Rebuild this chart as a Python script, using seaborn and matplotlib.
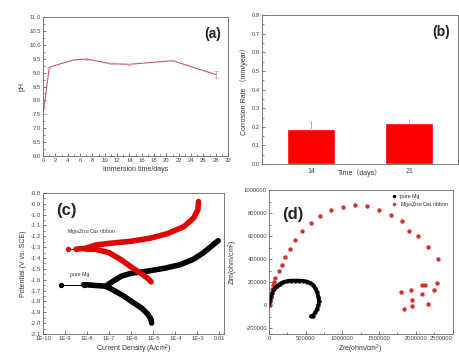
import numpy as np
import pandas as pd
import matplotlib
matplotlib.use("Agg")
import matplotlib.pyplot as plt
import seaborn as sns

# ---- (a) pH of the immersion solution ----
ph_days = [0, 1, 5, 7, 11, 14, 21, 28]
ph_values = [7.5, 9.2, 9.46, 9.49, 9.32, 9.30, 9.43, 8.93]
ph_err = [0.0, 0.02, 0.02, 0.02, 0.02, 0.02, 0.02, 0.12]

# ---- (b) corrosion rate ----
cr_days = ["14", "21"]
cr_rate = [0.186, 0.222]
cr_err = [0.046, 0.022]

# ---- (c) potentiodynamic polarisation (log10 current density, potential) ----
mg_start_logi = [-9.2, -8.16]
mg_start_e = [-1.645, -1.645]
mg_cath_logi = [-8.16, -7.17, -6.87, -6.43, -5.99, -5.54, -5.24, -5.1, -5.08]
mg_cath_e = [-1.645, -1.66, -1.69, -1.74, -1.80, -1.86, -1.92, -1.97, -2.0]
mg_anod_logi = [-7.17, -6.8, -6.43, -5.99, -5.24, -4.5, -3.76, -3.17, -2.72, -2.36, -2.06]
mg_anod_e = [-1.66, -1.61, -1.565, -1.54, -1.52, -1.495, -1.46, -1.41, -1.35, -1.29, -1.24]

rb_start_logi = [-8.87, -8.5]
rb_start_e = [-1.318, -1.318]
rb_anod_logi = [-8.5, -8.06, -7.61, -7.02, -5.99, -5.1, -4.36, -3.61, -3.17, -2.98, -2.95]
rb_anod_e = [-1.318, -1.31, -1.28, -1.265, -1.245, -1.215, -1.175, -1.11, -1.03, -0.955, -0.88]
rb_cath_logi = [-8.06, -7.61, -7.02, -6.43, -5.99, -5.54, -5.24, -5.1]
rb_cath_e = [-1.318, -1.32, -1.35, -1.42, -1.485, -1.545, -1.59, -1.62]

# ---- (d) Nyquist plots ----
mg_zre = [0, 13e3, 27e3, 45e3, 72e3, 108e3, 144e3, 188e3, 242e3, 301e3, 359e3,
          413e3, 467e3, 521e3, 565e3, 601e3, 633e3, 655e3, 673e3, 682e3, 673e3,
          655e3, 633e3, 601e3, 570e3]
mg_zim = [0, 37e3, 71e3, 108e3, 140e3, 165e3, 185e3, 199e3, 208e3, 214e3, 214e3,
          214e3, 211e3, 205e3, 194e3, 174e3, 145e3, 111e3, 74e3, 37e3, 3e3,
          -31e3, -60e3, -91e3, -97e3]

rb_zre = [9e3, 18e3, 27e3, 36e3, 45e3, 54e3, 63e3, 76e3, 135e3, 180e3, 224e3,
          287e3, 359e3, 449e3, 570e3, 696e3, 848e3, 1010e3, 1176e3, 1337e3,
          1494e3, 1661e3, 1813e3, 1907e3, 2029e3, 2168e3, 2302e3,
          1791e3, 1836e3, 1934e3, 1943e3, 1952e3, 2082e3, 2118e3, 2087e3,
          2172e3, 2253e3, 2289e3]
rb_zim = [3e3, 37e3, 71e3, 105e3, 140e3, 174e3, 205e3, 236e3, 293e3, 350e3, 416e3,
          490e3, 564e3, 644e3, 718e3, 778e3, 829e3, 849e3, 869e3, 858e3,
          823e3, 786e3, 729e3, 647e3, 601e3, 507e3, 399e3,
          117e3, -34e3, 134e3, 46e3, -6e3, 179e3, 179e3, 100e3,
          14e3, 128e3, 194e3]

ribbon_label = "Mg$_{66}$Zn$_{30}$Ca$_{4}$ ribbon"

sns.set_style("ticks")
plt.rcParams["font.family"] = ["Liberation Sans", "Noto Sans CJK SC", "DejaVu Sans"]
plt.rcParams["mathtext.fontset"] = "custom"
plt.rcParams["mathtext.rm"] = "Liberation Sans"
plt.rcParams["xtick.direction"] = "in"
plt.rcParams["ytick.direction"] = "in"

TICK = 4.2
LAB = 5.0

fig = plt.figure(figsize=(4.59, 3.56), dpi=100)


def style(ax):
    for s in ax.spines.values():
        s.set_linewidth(0.6)
        s.set_color("#666666")
    ax.tick_params(labelsize=TICK, colors="#444444", length=2, width=0.5, pad=1.5)
    ax.tick_params(which="minor", length=1.2, width=0.4)


# (a)
axa = fig.add_axes([0.094, 0.562, 0.403, 0.390])
df_a = pd.DataFrame({"day": ph_days, "pH": ph_values})
sns.lineplot(data=df_a, x="day", y="pH", ax=axa, color="#cc5a66", linewidth=0.8,
             marker="|", markersize=3, markeredgewidth=0.6, sort=False)
axa.errorbar(ph_days, ph_values, yerr=ph_err, fmt="none", ecolor="#d79aa0",
             elinewidth=0.6, capsize=1.2, capthick=0.5)
axa.set_xlim(0, 30)
axa.set_ylim(6.0, 11.0)
axa.set_xticks(np.arange(0, 31, 2))
axa.set_yticks(np.arange(6.0, 11.01, 0.5))
axa.set_yticklabels([f"{v:.1f}" for v in np.arange(6.0, 11.01, 0.5)])
axa.yaxis.set_minor_locator(matplotlib.ticker.MultipleLocator(0.25))
axa.xaxis.set_minor_locator(matplotlib.ticker.MultipleLocator(1))
axa.set_xlabel("Immersion time/days", fontsize=LAB, color="#333333", labelpad=2)
axa.set_ylabel("pH", fontsize=LAB, color="#333333", labelpad=3)
axa.text(0.96, 0.93, "(a)", transform=axa.transAxes, ha="right", va="top",
         fontsize=10, fontweight="bold")
style(axa)

# (b)
axb = fig.add_axes([0.571, 0.539, 0.427, 0.419])
df_b = pd.DataFrame({"days": cr_days, "rate": cr_rate})
axb.errorbar([0, 1], cr_rate, yerr=[[0, 0], cr_err], fmt="none", ecolor="#999999",
             elinewidth=0.6, capsize=0, zorder=1)
sns.barplot(data=df_b, x="days", y="rate", ax=axb, color="#ff0000", saturation=1,
            width=0.49, errorbar=None, zorder=2)
axb.set_xlim(-0.5, 1.5)
axb.set_ylim(0, 0.8)
axb.set_yticks(np.arange(0, 0.81, 0.1))
axb.set_yticklabels([f"{v:.1f}" for v in np.arange(0, 0.81, 0.1)])
axb.yaxis.set_minor_locator(matplotlib.ticker.MultipleLocator(0.05))
axb.set_xlabel("")
axb.set_ylabel("Corrosion Rate （mm/year）", fontsize=LAB, color="#333333", labelpad=3)
axb.text(0.5, -0.035, "Time（days）", transform=axb.transAxes, ha="center", va="top",
         fontsize=LAB, color="#333333")
axb.text(0.96, 0.93, "(b)", transform=axb.transAxes, ha="right", va="top",
         fontsize=10, fontweight="bold")
style(axb)
axb.tick_params(axis="x", labelsize=LAB, length=0, pad=3)

# (c)
axc = fig.add_axes([0.094, 0.062, 0.394, 0.396])
axc.set_xscale("log")


def curve(ax, logi, e, color, lw):
    d = pd.DataFrame({"i": np.power(10.0, logi), "E": e})
    sns.lineplot(data=d, x="i", y="E", ax=ax, color=color, linewidth=lw,
                 sort=False, estimator=None, solid_capstyle="round")


curve(axc, mg_start_logi, mg_start_e, "black", 0.7)
curve(axc, mg_cath_logi, mg_cath_e, "black", 4.0)
curve(axc, mg_anod_logi, mg_anod_e, "black", 4.0)
curve(axc, rb_start_logi, rb_start_e, "#e00000", 0.7)
curve(axc, rb_cath_logi, rb_cath_e, "#e00000", 4.0)
curve(axc, rb_anod_logi, rb_anod_e, "#e00000", 4.0)
axc.scatter(np.power(10.0, mg_start_logi), mg_start_e, s=8, color="black", zorder=5)
axc.scatter(np.power(10.0, rb_start_logi), rb_start_e, s=8, color="#e00000", zorder=5)
axc.set_xlim(1e-10, 1.6e-2)
axc.set_ylim(-2.1, -0.8)
decades = [1e-10, 1e-9, 1e-8, 1e-7, 1e-6, 1e-5, 1e-4, 1e-3, 1e-2]
axc.set_xticks(decades)
axc.set_xticklabels(["1E-10", "1E-9", "1E-8", "1E-7", "1E-6", "1E-5", "1E-4", "1E-3", "0.01"])
axc.xaxis.set_minor_locator(matplotlib.ticker.NullLocator())
axc.set_yticks(np.arange(-2.1, -0.79, 0.1))
axc.set_yticklabels([f"{v:.1f}" for v in np.arange(-2.1, -0.79, 0.1)])
axc.yaxis.set_minor_locator(matplotlib.ticker.MultipleLocator(0.05))
axc.set_xlabel("Current Density (A/cm$^2$)", fontsize=LAB, color="#333333", labelpad=1)
axc.set_ylabel("Potential (V vs. SCE)", fontsize=LAB, color="#333333", labelpad=3)
axc.text(1.2e-9, -1.2, ribbon_label, fontsize=3.8, color="#333333", va="bottom")
axc.text(1.6e-9, -1.575, "pure Mg", fontsize=3.8, color="#333333", va="bottom")
axc.text(0.07, 0.93, "(c)", transform=axc.transAxes, ha="left", va="top",
         fontsize=12, fontweight="bold")
style(axc)

# (d)
axd = fig.add_axes([0.586, 0.062, 0.400, 0.404])
df_mg = pd.DataFrame({"Zre": mg_zre, "Zim": mg_zim})
df_rb = pd.DataFrame({"Zre": rb_zre, "Zim": rb_zim})
sns.lineplot(data=df_mg, x="Zre", y="Zim", ax=axd, color="black", linewidth=2.6,
             sort=False, estimator=None)
sns.scatterplot(data=df_mg, x="Zre", y="Zim", ax=axd, color="black", s=10,
                linewidth=0, label="pure Mg")
sns.scatterplot(data=df_rb, x="Zre", y="Zim", ax=axd, color="#d03030", s=10,
                linewidth=0, label=ribbon_label)
axd.set_xlim(0, 2500000)
axd.set_ylim(-250000, 1000000)
axd.set_xticks(np.arange(0, 2500001, 500000))
axd.set_xticklabels([str(v) for v in range(0, 2500001, 500000)])
axd.set_yticks(np.arange(-200000, 1000001, 200000))
axd.set_yticklabels([str(v) for v in range(-200000, 1000001, 200000)])
axd.xaxis.set_minor_locator(matplotlib.ticker.MultipleLocator(250000))
axd.yaxis.set_minor_locator(matplotlib.ticker.MultipleLocator(100000))
axd.set_xlabel("Zre(ohm/cm$^2$)", fontsize=LAB, color="#333333", labelpad=1)
axd.set_ylabel("Zim(ohm/cm$^2$)", fontsize=LAB, color="#333333", labelpad=3)
axd.legend(loc="upper right", fontsize=3.8, frameon=False, handletextpad=0.2,
           borderaxespad=0.3, labelspacing=0.2, markerscale=0.8)
axd.text(0.07, 0.88, "(d)", transform=axd.transAxes, ha="left", va="top",
         fontsize=12, fontweight="bold")
style(axd)
axd.get_xticklabels()[-1].set_horizontalalignment("right")

fig.savefig("out.png", dpi=100)
